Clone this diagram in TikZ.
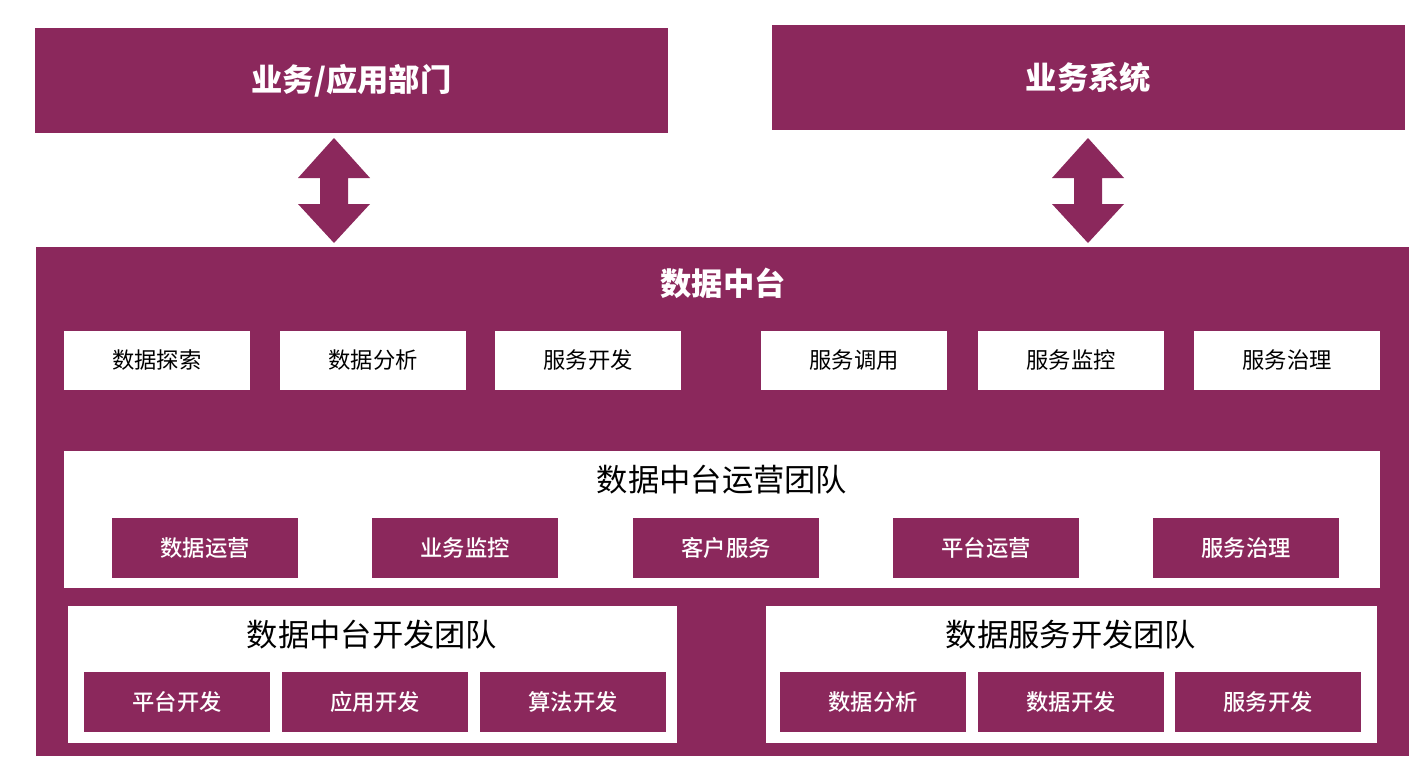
\documentclass[tikz,border=0pt]{standalone}
\usepackage{fontspec}
\setmainfont{Noto Sans CJK SC}
\newfontfamily\medfont{Noto Sans CJK SC Medium}
\usepackage{xcolor}
\usepackage{tikz}
\usetikzlibrary{positioning, calc}

\definecolor{plum}{HTML}{8B285C}

\tikzset{
  panel/.style={fill=plum, inner sep=0pt, text=white, font=\fontsize{17.8}{20}\selectfont\bfseries},
  wbox/.style={fill=white, inner sep=0pt, minimum width=3.72cm, minimum height=1.2cm, font=\fontsize{12.7}{15}\selectfont},
  pbox/.style={fill=plum, inner sep=0pt, minimum width=3.72cm, minimum height=1.2cm, text=white, font=\fontsize{12.7}{15}\selectfont\medfont},
  team/.style={fill=white, inner sep=0pt, minimum height=2.74cm},
  teamtitle/.style={font=\fontsize{17.8}{20}\selectfont},
}

\begin{document}
\begin{tikzpicture}[x=0.02cm, y=-0.02cm]
\useasboundingbox (0,0) rectangle (1428,774);

% Top boxes
\node[panel, minimum width=12.66cm, minimum height=2.1cm] (dept) at (351.5, 80.5) {业务/应用部门};
\node[panel, minimum width=12.66cm, minimum height=2.1cm] (sys) at (1088.5, 77.5) {业务系统};

% Double arrows
\foreach \ax in {334, 1088} {
  \fill[plum] (\ax,138) -- ++(36,40) -- ++(-22,0) -- ++(0,26) -- ++(22,0)
    -- (\ax,243) -- ++(-36,-39) -- ++(22,0) -- ++(0,-26) -- ++(-22,0) -- cycle;
}

% Data middle platform
\node[fill=plum, inner sep=0pt, minimum width=27.46cm, minimum height=10.18cm] (mid) at (722.5, 501.5) {};
\node[panel] (midtitle) at (723, 283) {数据中台};

\node[wbox] (explore) at (157, 360.5) {数据探索};
\node[wbox] (analyse) at (373, 360.5) {数据分析};
\node[wbox] (svcdev) at (588, 360.5) {服务开发};
\node[wbox] (invoke) at (854, 360.5) {服务调用};
\node[wbox] (monitor) at (1071, 360.5) {服务监控};
\node[wbox] (govern) at (1287, 360.5) {服务治理};

% Operations team
\node[team, minimum width=26.32cm] (ops) at (722, 519.5) {};
\node[teamtitle] (opstitle) at (722, 480) {数据中台运营团队};
\node[pbox] (dataops) at (205, 548) {数据运营};
\node[pbox] (bizmon) at (465, 548) {业务监控};
\node[pbox] (custsvc) at (726, 548) {客户服务};
\node[pbox] (platops) at (986, 548) {平台运营};
\node[pbox] (opsgov) at (1246, 548) {服务治理};

% Platform development team
\node[team, minimum width=12.18cm] (devL) at (372.5, 674.5) {};
\node[teamtitle] (devLtitle) at (372, 635) {数据中台开发团队};
\node[pbox] (platdev) at (177, 702) {平台开发};
\node[pbox] (appdev) at (375, 702) {应用开发};
\node[pbox] (algodev) at (573, 702) {算法开发};

% Data service development team
\node[team, minimum width=12.22cm] (devR) at (1071.5, 674.5) {};
\node[teamtitle] (devRtitle) at (1071, 635) {数据服务开发团队};
\node[pbox] (anadev) at (873, 702) {数据分析};
\node[pbox] (datadev) at (1071, 702) {数据开发};
\node[pbox] (srvdev) at (1268, 702) {服务开发};

\end{tikzpicture}
\end{document}
